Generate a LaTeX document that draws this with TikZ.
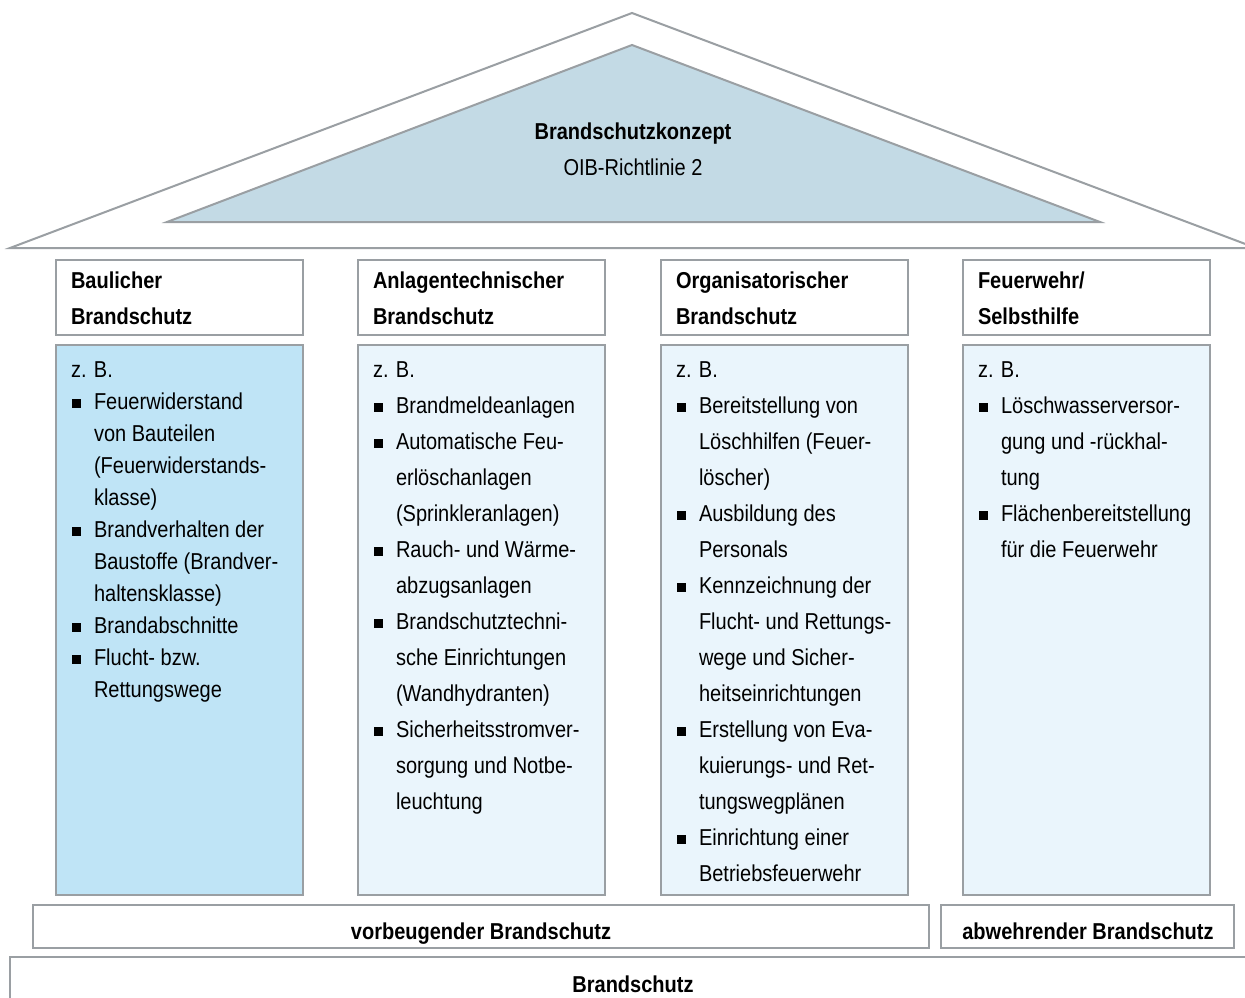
\documentclass[tikz,border=0pt]{standalone}
\usepackage{fontspec}
\setmainfont[FakeStretch=0.87]{Liberation Sans}
\definecolor{ln}{HTML}{9A9FA3}
\definecolor{roof}{HTML}{C3DAE5}
\definecolor{dark}{HTML}{BFE4F6}
\definecolor{light}{HTML}{EAF5FC}
\tikzset{
  txt/.style={inner sep=0pt, outer sep=0pt, font=\fontsize{23}{36}\selectfont, text=black},
  btxt/.style={txt, font=\fontsize{23}{36}\selectfont\bfseries},
  frame/.style={draw=ln, line width=2pt, inner sep=0pt, outer sep=0pt, anchor=north west, fill=white},
  hdrbox/.style={frame, minimum width=247pt, minimum height=75pt},
  listbox/.style={frame, minimum width=247pt, minimum height=550pt, fill=light},
}
\newcommand\plist[4]{%
  \node[txt, anchor=base west] (#1-0) at (#2+15,377) {z. B.};
  \foreach \k/\t [count=\i] in {#4} {
    \node[txt, anchor=base west] (#1-\i) at (#2+38, 377+\i*#3) {\t};
    \ifnum\k=1 \fill[black] (#2+16, 377+\i*#3-1) rectangle ++(9,-9); \fi
  }%
}
\newcommand\phead[4]{%
  \node[btxt, anchor=base west] (#1-a) at (#2+15,288) {#3};
  \node[btxt, anchor=base west] (#1-b) at (#2+15,324) {#4};
}
\begin{document}
\begin{tikzpicture}[x=1pt,y=-1pt,line width=2pt]
\useasboundingbox (0,0) rectangle (1245,998);
\fill[white] (0,0) rectangle (1245,998);
% roof
\draw[ln, line join=miter] (10,248) -- (632,13) -- (1256,248) -- cycle;
\filldraw[draw=ln, fill=roof] (167,222) -- (632,45) -- (1100,222) -- cycle;
\node[btxt, anchor=base] (konzept) at (633,139) {Brandschutzkonzept};
\node[txt, anchor=base] (oib) at (633,175) {OIB-Richtlinie 2};
% header boxes
\node[hdrbox] (hb1) at (56,260) {};
\node[hdrbox] (hb2) at (358,260) {};
\node[hdrbox] (hb3) at (661,260) {};
\node[hdrbox] (hb4) at (963,260) {};
\phead{h1}{56}{Baulicher}{Brandschutz}
\phead{h2}{358}{Anlagentechnischer}{Brandschutz}
\phead{h3}{661}{Organisatorischer}{Brandschutz}
\phead{h4}{963}{Feuerwehr/}{Selbsthilfe}
% list boxes
\node[listbox, fill=dark] (lb1) at (56,345) {};
\node[listbox] (lb2) at (358,345) {};
\node[listbox] (lb3) at (661,345) {};
\node[listbox] (lb4) at (963,345) {};
\plist{c1}{56}{32}{1/Feuerwiderstand, 0/von Bauteilen, 0/(Feuerwiderstands-, 0/klasse), 1/Brandverhalten der, 0/Baustoffe (Brandver-, 0/haltensklasse), 1/Brandabschnitte, 1/Flucht- bzw., 0/Rettungswege}
\plist{c2}{358}{36}{1/Brandmeldeanlagen, 1/Automatische Feu-, 0/erlöschanlagen, 0/(Sprinkleranlagen), 1/Rauch- und Wärme-, 0/abzugsanlagen, 1/Brandschutztechni-, 0/sche Einrichtungen, 0/(Wandhydranten), 1/Sicherheitsstromver-, 0/sorgung und Notbe-, 0/leuchtung}
\plist{c3}{661}{36}{1/Bereitstellung von, 0/Löschhilfen (Feuer-, 0/löscher), 1/Ausbildung des, 0/Personals, 1/Kennzeichnung der, 0/Flucht- und Rettungs-, 0/wege und Sicher-, 0/heitseinrichtungen, 1/Erstellung von Eva-, 0/kuierungs- und Ret-, 0/tungswegplänen, 1/Einrichtung einer, 0/Betriebsfeuerwehr}
\plist{c4}{963}{36}{1/Löschwasserversor-, 0/gung und -rückhal-, 0/tung, 1/Flächenbereitstellung, 0/für die Feuerwehr}
% bottom bars
\node[frame, minimum width=896pt, minimum height=43pt] (vb) at (33,905) {};
\node[btxt, anchor=base] (vbt) at (481,939) {vorbeugender Brandschutz};
\node[frame, minimum width=293pt, minimum height=43pt] (ab) at (941,905) {};
\node[btxt, anchor=base] (abt) at (1088,939) {abwehrender Brandschutz};
\node[frame, minimum width=1260pt, minimum height=60pt] (bs) at (10,957) {};
\node[btxt, anchor=base] (bst) at (633,992) {Brandschutz};
\end{tikzpicture}
\end{document}
